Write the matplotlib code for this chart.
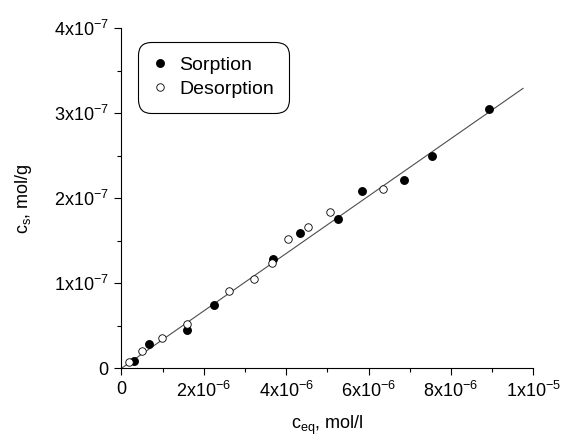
import matplotlib
matplotlib.use("Agg")
import matplotlib.pyplot as plt
from matplotlib.ticker import FixedLocator, MultipleLocator

plt.rcParams["font.family"] = ["Liberation Sans", "DejaVu Sans"]
plt.rcParams["mathtext.fontset"] = "custom"
plt.rcParams["mathtext.rm"] = "Liberation Sans"
plt.rcParams["mathtext.it"] = "Liberation Sans"
plt.rcParams["mathtext.bf"] = "Liberation Sans:bold"

# ---- data ------------------------------------------------------------------
sorp_x = [0.31e-6, 0.67e-6, 1.59e-6, 2.25e-6, 3.67e-6, 4.34e-6, 5.27e-6,
          5.83e-6, 6.86e-6, 7.54e-6, 8.92e-6]
sorp_y = [0.09e-7, 0.29e-7, 0.45e-7, 0.75e-7, 1.29e-7, 1.59e-7, 1.75e-7,
          2.09e-7, 2.21e-7, 2.49e-7, 3.05e-7]

desorp_x = [0.19e-6, 0.49e-6, 0.98e-6, 1.60e-6, 2.61e-6, 3.23e-6, 3.65e-6,
            4.05e-6, 4.52e-6, 5.07e-6, 6.34e-6]
desorp_y = [0.07e-7, 0.21e-7, 0.36e-7, 0.52e-7, 0.91e-7, 1.05e-7, 1.24e-7,
            1.52e-7, 1.66e-7, 1.84e-7, 2.11e-7]

fit_x = [0.0, 9.75e-6]
fit_y = [0.0, 3.29e-7]

xticks = [0, 2e-6, 4e-6, 6e-6, 8e-6, 1e-5]
xticklabels = ["0", r"2x10$^{-6}$", r"4x10$^{-6}$", r"6x10$^{-6}$",
               r"8x10$^{-6}$", r"1x10$^{-5}$"]
yticks = [0, 1e-7, 2e-7, 3e-7, 4e-7]
yticklabels = ["0", r"1x10$^{-7}$", r"2x10$^{-7}$", r"3x10$^{-7}$",
               r"4x10$^{-7}$"]

# ---- plot ------------------------------------------------------------------
fig = plt.figure(figsize=(5.71, 4.37), dpi=100)
ax = fig.add_axes([0.2125, 0.157, 0.7215, 0.779])

ax.plot(fit_x, fit_y, color="0.3", lw=0.8, zorder=1)
ax.plot(sorp_x, sorp_y, "o", color="black", ms=5.4, ls="none",
        label="Sorption", zorder=3)
ax.plot(desorp_x, desorp_y, "o", mfc="white", mec="black", mew=0.6,
        ms=5.4, ls="none", label="Desorption", zorder=3)

ax.set_xlim(0, 1e-5)
ax.set_ylim(0, 4e-7)
ax.xaxis.set_major_locator(FixedLocator(xticks))
ax.yaxis.set_major_locator(FixedLocator(yticks))
ax.set_xticklabels(xticklabels)
ax.set_yticklabels(yticklabels)
ax.xaxis.set_minor_locator(MultipleLocator(1e-6))
ax.yaxis.set_minor_locator(MultipleLocator(0.5e-7))
ax.tick_params(which="major", direction="out", length=5, width=0.8,
               labelsize=13, pad=4)
ax.tick_params(which="minor", direction="out", length=3, width=0.8)

for s in ("top", "right"):
    ax.spines[s].set_visible(False)
for s in ("left", "bottom"):
    ax.spines[s].set_linewidth(0.8)

ax.set_xlabel(r"c$_{\rm eq}$, mol/l", fontsize=13, labelpad=9)
ax.set_ylabel(r"c$_{\rm s}$, mol/g", fontsize=13, labelpad=14)

leg = ax.legend(loc="upper left", bbox_to_anchor=(0.04, 0.96),
                borderaxespad=0, fontsize=14, frameon=True, fancybox=True,
                edgecolor="black", framealpha=1, handlelength=0.8,
                handletextpad=0.6, borderpad=0.75, labelspacing=0.35)
leg.get_frame().set_linewidth(0.8)
leg.get_frame().set_boxstyle("round", pad=0.0, rounding_size=0.7)

fig.savefig("out.png", dpi=100)
